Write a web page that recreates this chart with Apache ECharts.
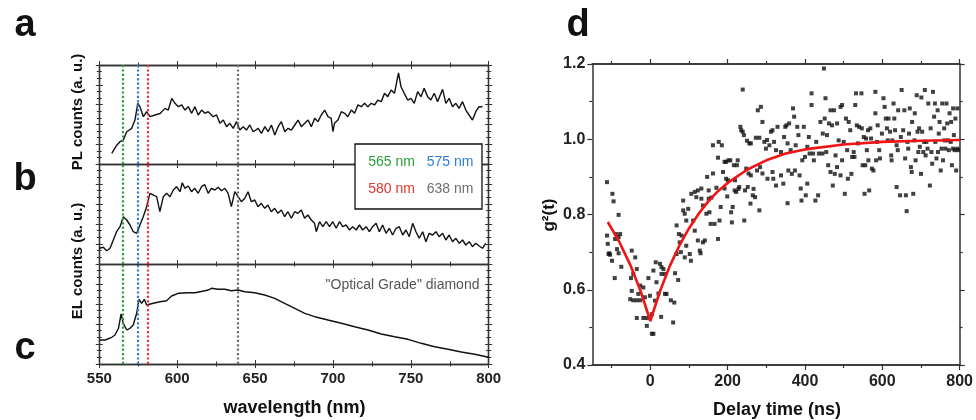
<!DOCTYPE html>
<html><head><meta charset="utf-8">
<script src="https://cdn.jsdelivr.net/npm/echarts@6/dist/echarts.min.js"></script>
<style>html,body{margin:0;padding:0;background:#fff}#c{width:976px;height:420px}</style>
</head><body><div id="c"></div><script>
// ---------- data ----------
const plSpectrumA = [[558,10.8],[561.2,19],[563.3,22.5],[565.4,24.2],[567.6,32.6],[570.8,36],[572.9,44.4],[574.7,61.3],[576.1,57.9],[578.3,47.8],[580.4,52.8],[582.5,47.8],[585.8,49.5],[589,51],[592.2,56.2],[594.3,54.5],[596.5,66.3],[598.6,61.3],[600.7,57.9],[602.9,59.6],[605,54.5],[607.1,57.9],[609.3,51.2],[611.4,57.9],[613.5,49.5],[615.7,54.5],[617.8,51.2],[619.9,52.8],[623.1,47.8],[625.3,49.5],[627.4,41.1],[629.6,44.4],[631.7,37.7],[633.8,41.1],[636,36],[638.1,42.8],[640.2,34.3],[642.4,37.7],[644.5,34.3],[646.6,39.4],[648.8,32.6],[652,36],[654.1,30.9],[656.3,37.7],[658.4,32.6],[660.5,39.4],[662.7,29.3],[664.8,37.7],[666.9,42.8],[669.1,32.6],[671.2,36],[673.3,34.3],[675.5,39.4],[677.6,44.4],[679.7,37.7],[681.9,41.1],[684,44.4],[686.1,37.7],[688.3,46.1],[690.4,42.8],[692.5,49.5],[694.7,54.5],[696.8,47.8],[698.9,46.1],[700,32.6],[701,41.1],[703.2,44.4],[705.4,52.8],[707.5,51.2],[709.6,47.8],[711.8,54.5],[713.9,51.2],[716,59.6],[718.2,57.9],[720.3,61.3],[722.4,57.9],[724.6,61.3],[726.7,59.6],[728.8,64.6],[731,63],[733.1,71.4],[735.2,68],[737.4,74.7],[739.5,71.4],[742.1,92],[743.7,78],[745.8,71.4],[748,64.6],[750.1,66.3],[752.2,61.3],[754.4,73.1],[756.5,68],[758.6,76.4],[760.8,68],[762.9,64.6],[765,71.4],[767.2,63],[770.4,75.4],[772.5,61.3],[774.6,66.3],[776.8,57.9],[778.9,61.3],[781,56.2],[783.2,63],[785.3,54.5],[787.4,49.5],[789.6,44.4],[791.7,52.8],[793.8,57.9],[796,57.9]];

const spectrumB = [[550,15.7],[552.6,16.7],[554.7,13.3],[556.9,15.7],[559,24],[561.1,32.3],[563.3,37.3],[565.4,47.3],[567.6,44],[569.7,39],[571.8,32.3],[574,30.7],[576.1,39],[578.2,47.3],[580.4,57.3],[582.5,70.7],[584.7,69],[586.8,67.3],[588.9,52.3],[590,50.7],[591.1,67.3],[593.2,70.7],[595.4,67.3],[597.5,74],[599.6,77.3],[601.8,72.3],[603.3,81.3],[604.9,75.7],[607.1,78],[609.2,72.3],[611.3,75.7],[613.5,70.7],[615.6,77.3],[617.7,79.3],[619.9,70.7],[622,75.7],[624.2,74],[626.3,76.7],[628.4,73.3],[630.6,75.7],[632.7,70.7],[634.8,57.3],[637,72.3],[639.1,67.3],[641.2,62.3],[643.4,65.7],[645.5,72.3],[647.6,62.3],[649.8,64],[651.9,57.3],[654,60.7],[656.2,55.7],[658.3,59],[660.4,52.3],[662.6,55.7],[664.7,50.7],[666.9,54],[669,47.3],[671.1,52.3],[673.3,45.7],[675.4,52.3],[677.5,50.7],[679.7,54],[681.8,45.7],[683.9,49],[686.1,44],[688.2,40.7],[689.3,32.3],[691.4,42.3],[693.5,37.3],[695.7,42.3],[697.8,37.3],[699.9,42.3],[702.1,35.7],[704.2,42.3],[706.3,37.3],[708.5,39],[710.6,34],[712.7,37.3],[714.9,34],[717,39],[719.1,34],[721.3,37.3],[723.4,32.3],[725.5,37.3],[727.7,40.7],[729.8,32.3],[731.9,39],[734.1,30.7],[736.2,35.7],[738.3,29],[740.5,35.7],[742.6,37.3],[744.8,29],[746.9,34],[749,27.3],[751.2,40.7],[753.3,32.3],[755.4,25.7],[757.6,32.3],[759.7,22.3],[761.8,30.7],[764,29],[766.1,32.3],[768.2,27.3],[770.4,30.7],[772.5,24],[774.6,29],[776.8,22.3],[778.9,25.7],[781.1,20.7],[783.2,24],[785.3,19],[787.5,22.3],[789.6,17.3],[791.7,20.7],[793.9,18],[796,15.7],[798.1,20.7]];

const elSpectrumC = [[550,24],[553.7,24],[558,26.7],[560.1,29],[562.3,35.7],[564,50],[565.4,40.7],[567.6,34],[569.7,35.7],[571.8,39],[574,50.7],[575.5,64.7],[577.2,60.7],[578.9,64.7],[580.4,59],[581.5,57.3],[584.7,60.7],[589,62.3],[593.2,63.3],[596.4,68],[600.7,70.7],[607.1,71.3],[611.4,71.3],[617.8,73.3],[620,74],[622,75.7],[626.3,74.7],[630.6,74.7],[634.8,73.3],[639.1,74],[643.4,72.3],[649.8,71.3],[656.2,69],[662.6,65.7],[669,60.7],[675.5,55.7],[681.9,50.7],[688.3,47.3],[696.8,44],[705.4,40.7],[713.9,37.3],[722.5,34],[731,30],[739.6,27.3],[748.2,24.7],[756.7,20.7],[765.3,17.3],[773.9,14.7],[782.4,12],[791,9.7],[798.5,7.3],[800,7]];

const markerWavelengths = [565, 575, 581, 639];
const markerColors = ['#2e9b3e', '#2f7dd2', '#e2352c', '#6e6e6e'];
const legendLabels = ['565 nm', '575 nm', '580 nm', '638 nm'];
const wavelengthTicks = {min: 550, max: 800, interval: 50};

const g2Points = [
[-112,.886],[-98,.855],[-95,.835],[-82,.799],[-112,.744],[-110,.722],[-106,.697],[-104,.693],[-99,.677],[-92,.631],[-91,.735],[-86,.708],[-82,.697],[-78,.748],[-82,.740],[-75,.661],[-108,.695],[-89,.748],
[-48,.704],[-39,.686],[-50,.631],[-35,.655],[-44,.642],[-48,.597],[-26,.611],[-31,.589],[-52,.575],[-44,.572],[-35,.572],[-26,.572],[-18,.606],[-14,.580],[-35,.525],[-18,.525],[-9,.525],[-9,.504],[-5,.631],[-1,.584],[4,.483],[8,.483],[4,.535],[8,.651],[12,.571],[16,.620],[14,.673],[21,.590],[25,.669],[29,.660],[34,.655],[38,.589],[28,.528],[29,.642],[38,.642],[42,.589],[53,.572],[59,.513],[62,.566],[64,.644],[72,.626],[68,.695],[68,.771],[74,.748],[76,.726],[81,.744],[79,.700],
[85,.811],[85,.837],[89,.802],[93,.784],[93,.717],[89,.686],[98,.815],[102,.695],[105,.677],[106,.855],[111,.784],[115,.860],[115,.757],[119,.846],[123,.864],[123,.731],[128,.704],[130,.697],[132,.869],[132,.842],[136,.824],[136,.726],[141,.731],[145,.802],[147,.900],[151,.864],[151,.842],[153,.806],[156,.775],[158,.845],[162,.984],[162,.909],[166,.775],[171,.871],[175,.951],[175,.735],[177,.993],[179,.784],[182,.820],[185,.984],[188,.913],[192,.869],[192,.940],[196,.940],[196,.895],[199,.848],[201,.891],[202,.944],[207,.944],[209,.806],[211,.779],[213,.820],[216,.931],[218,.864],[219,.891],[222,.860],[224,.931],[226,.944],[228,.868],[230,.873],[233,1.033],[235,1.024],[239,1.132],[239,1.020],[242,1.011],[243,.784],[245,.864],[248,.922],[250,.996],[252,.873],[254,.909],[256,.989],[260,.989],[259,.829],[260,.904],[265,.851],[267,.868],[271,.846],[273,1.004],[276,.917],[278,1.077],[282,.811],[282,1.004],[284,.926],[286,1.086],[290,1.046],[290,.909],[295,.993],[299,.975],[302,.998],[303,.895],[308,.984],[312,1.020],[316,.913],
[316,1.024],[320,.993],[325,.971],[329,1.033],[318,.895],[325,.877],[338,.966],[338,.904],[344,.882],[346,1.006],[349,1.033],[352,1.037],[355,.989],[355,.830],[357,.917],[359,1.042],[363,.971],[366,.908],[369,1.082],[372,1.060],[374,.917],[376,.984],[380,1.033],[383,1.011],[386,.904],[389,.869],[391,.837],[393,.944],[397,1.033],[400,.953],[402,.851],[406,.882],[406,.980],[410,1.006],[412,.962],[417,1.122],[417,1.091],[421,.962],[423,.944],[427,.837],[429,.993],[434,.851],[436,.962],[440,1.046],[445,.962],[446,1.015],[449,1.188],[451,1.055],[453,1.109],[455,.966],[457,1.011],[460,.931],[462,1.042],[466,1.077],[466,.913],[470,1.037],[472,.877],[475,1.077],[477,.908],[479,.957],[483,1.042],[483,.926],[487,.997],[492,1.086],[492,.904],[496,1.091],[496,.944],[500,.993],[503,.855],[506,1.055],[509,.971],[511,.895],[513,1.046],[517,1.024],[520,.908],[522,.953],[526,.966],[528,.953],[530,1.091],[532,1.122],[534,1.037],[537,.989],[540,1.033],[546,1.122],[547,1.029],[549,.931],[552,1.006],[554,.855],[556,.931],[558,1.002],[560,.971],[563,1.024],[564,.944],[566,.864],[569,1.029],[571,1.002],[573,.922],[577,.917],[582,1.126],[582,1.069],[584,.944],[586,.993],[588,1.037],[592,.971],[594,.949],[599,1.015],[603,1.109],[606,1.086],[609,1.055],[612,1.029],[614,.997],[616,1.055],[620,1.020],[623,.957],[624,.944],[626,.997],[629,1.095],[631,1.055],[633,1.024],[637,.873],[637,.984],[640,.971],[641,1.077],[646,.851],[648,1.006],[650,1.131],[654,1.024],[657,1.077],[659,.949],[661,.851],[663,.809],[665,.993],[667,.975],[669,1.015],[671,1.082],[674,.926],[676,.913],[677,1.046],[680,.855],[683,.997],[684,1.069],[686,.944],[689,1.117],[691,1.020],[693,.966],[695,1.029],[697,.980],[700,.908],[701,1.111],[703,1.020],[706,.966],[708,.993],[710,1.131],[712,.957],[714,.993],[717,.975],[719,1.095],[723,.877],[725,1.029],[727,.966],[729,.935],[731,1.126],[734,1.060],[736,1.095],[737,.993],[740,.949],[743,1.077],[744,.966],[746,1.015],[748,1.046],[751,.917],[753,.975],[755,1.095],[757,.944],[760,1.029],[761,.997],[763,.975],[766,1.095],[768,1.042],[770,.997],[772,.971],[774,1.069],[777,.993],[778,1.046],[780,.931],[783,1.082],[783,.975],[785,1.011],[787,.971],[789,1.055],[791,.917],[794,1.082],[794,.975],[796,.971]
];

const fitTime = [-110,-80,-50,-25,0,25,50,75,100,125,150,175,200,250,300,350,400,500,600,700,800];
const fitG2   = [.780,.727,.662,.596,.517,.596,.662,.717,.763,.802,.835,.862,.884,.919,.944,.962,.973,.986,.993,.996,.998];

const delayMajorTicks = [0, 200, 400, 600, 800];
const delayMinorTicks = [-100, 100, 300, 500, 700];
const g2Ticks = {min: 0.4, max: 1.2, interval: 0.2};

// ---------- chart ----------
const FONT = '"Liberation Sans", Arial, Helvetica, sans-serif';
const AX = '#333';
const grids = [
  {left: 99.3, top: 65, width: 389.4, height: 99},
  {left: 99.3, top: 164, width: 389.4, height: 100},
  {left: 99.3, top: 264, width: 389.4, height: 100},
  {left: 592.3, top: 64, width: 369.4, height: 301}
];

function wlX(gridIndex, position, inside, showLabel) {
  return {type: 'value', gridIndex, position, min: wavelengthTicks.min, max: wavelengthTicks.max, interval: wavelengthTicks.interval,
    axisLine: {show: true, onZero: false, lineStyle: {color: AX, width: 1.3}},
    axisTick: {show: true, inside, length: 4, lineStyle: {color: AX, width: 1}},
    minorTick: {show: true, splitNumber: 2, length: 2.5, lineStyle: {color: AX, width: 1}},
    axisLabel: {show: showLabel, margin: 7, fontFamily: FONT, fontWeight: 'bold', fontSize: 15, color: '#222'},
    splitLine: {show: false}, minorSplitLine: {show: false}};
}
function countY(gridIndex, position, inside) {
  return {type: 'value', gridIndex, position, min: 0, max: 100, interval: 20,
    axisLine: {show: true, onZero: false, lineStyle: {color: AX, width: 1.3}},
    axisTick: {show: true, inside, length: 3.5, lineStyle: {color: AX, width: 1}},
    minorTick: {show: true, splitNumber: 3, length: 2.5, lineStyle: {color: AX, width: 1}},
    axisLabel: {show: false}, splitLine: {show: false}, minorSplitLine: {show: false}};
}
function delayX(position, ticks, len, showLabel) {
  return {type: 'value', gridIndex: 3, position, min: -150, max: 800,
    axisLine: {show: true, onZero: false, lineStyle: {color: AX, width: 1.5}},
    axisTick: {show: true, inside: false, length: len, customValues: ticks, lineStyle: {color: AX, width: 1.2}},
    axisLabel: {show: showLabel, customValues: ticks, margin: 9, fontFamily: FONT, fontWeight: 'bold', fontSize: 16, color: '#222'},
    splitLine: {show: false}};
}
function g2Y(position, showLabel) {
  return {type: 'value', gridIndex: 3, position, min: g2Ticks.min, max: g2Ticks.max, interval: g2Ticks.interval,
    axisLine: {show: true, onZero: false, lineStyle: {color: AX, width: 1.5}},
    axisTick: {show: true, inside: false, length: 5, lineStyle: {color: AX, width: 1.2}},
    minorTick: {show: true, splitNumber: 2, length: 3, lineStyle: {color: AX, width: 1.2}},
    axisLabel: {show: showLabel, margin: 7, formatter: v => v.toFixed(1), fontFamily: FONT, fontWeight: 'bold', fontSize: 16, color: '#222'},
    splitLine: {show: false}, minorSplitLine: {show: false}};
}

const xAxis = [
  wlX(0, 'bottom', true, false),  // 0 a
  wlX(0, 'top', true, false),     // 1
  wlX(0, 'top', false, false),    // 2
  wlX(1, 'bottom', true, false),  // 3 b
  wlX(1, 'top', true, false),     // 4
  wlX(2, 'bottom', true, true),   // 5 c
  wlX(2, 'top', true, false),     // 6
  wlX(2, 'bottom', false, false), // 7
  delayX('bottom', delayMajorTicks, 5, true),  // 8 d
  delayX('bottom', delayMinorTicks, 3, false), // 9
  delayX('top', delayMajorTicks, 5, false),    // 10
  delayX('top', delayMinorTicks, 3, false)     // 11
];
const yAxis = [];
for (let g = 0; g < 3; g++) {
  yAxis.push(countY(g, 'left', true), countY(g, 'left', false), countY(g, 'right', true), countY(g, 'right', false));
}
yAxis.push(g2Y('left', true), g2Y('right', false)); // 12, 13

const markLine = {
  silent: true, symbol: ['none', 'none'], animation: false,
  label: {show: false},
  lineStyle: {type: 'dotted', width: 2.2},
  data: markerWavelengths.map((w, i) => ({xAxis: w, lineStyle: {color: markerColors[i], type: 'dotted', width: 2.2}}))
};
function spectrum(data, xi, yi) {
  return {type: 'line', data, xAxisIndex: xi, yAxisIndex: yi, showSymbol: false, symbol: 'none',
    lineStyle: {color: '#111', width: 1.4}, markLine, animation: false, z: 3};
}

const txt = (text, x, y, font, extra) => Object.assign({type: 'text', x, y, z: 100,
  style: Object.assign({text, font, fill: '#111', align: 'center', verticalAlign: 'middle', textAlign: 'center', textVerticalAlign: 'middle'}, {})}, extra || {});

const graphic = [
  txt('a', 25, 26, 'bold 38px ' + FONT),
  txt('b', 25, 180, 'bold 38px ' + FONT),
  txt('c', 25, 349, 'bold 38px ' + FONT),
  txt('d', 578, 26, 'bold 38px ' + FONT),
  txt('PL counts (a. u.)', 78, 112, 'bold 15px ' + FONT, {rotation: Math.PI / 2}),
  txt('EL counts (a. u.)', 78, 261, 'bold 15px ' + FONT, {rotation: Math.PI / 2}),
  txt('wavelength (nm)', 294.5, 408, 'bold 18px ' + FONT),
  txt('Delay time (ns)', 777, 410, 'bold 18px ' + FONT),
  txt('g\u00B2(t)', 549, 215, 'bold 17px ' + FONT, {rotation: Math.PI / 2}),
  {type: 'rect', z: 99, shape: {x: 355, y: 144, width: 127, height: 65}, style: {fill: '#fff', stroke: '#111', lineWidth: 1.3}},
  txt(legendLabels[0], 391.5, 162, '14px ' + FONT),
  txt(legendLabels[1], 450, 162, '14px ' + FONT),
  txt(legendLabels[2], 391.5, 189, '14px ' + FONT),
  txt(legendLabels[3], 450, 189, '14px ' + FONT),
  txt('"Optical Grade" diamond', 402.5, 285, '14px ' + FONT)
];
graphic[10].style.fill = markerColors[0];
graphic[11].style.fill = markerColors[1];
graphic[12].style.fill = markerColors[2];
graphic[13].style.fill = markerColors[3];
graphic[14].style.fill = '#555';
graphic[0].style.align = graphic[0].style.textAlign = 'center';

const chart = echarts.init(document.getElementById('c'), null, {renderer: 'canvas'});
chart.setOption({
  backgroundColor: '#fff',
  animation: false,
  grid: grids,
  xAxis, yAxis,
  graphic,
  series: [
    spectrum(plSpectrumA, 0, 0),
    spectrum(spectrumB, 3, 4),
    spectrum(elSpectrumC, 5, 8),
    {type: 'scatter', data: g2Points, xAxisIndex: 8, yAxisIndex: 12, symbol: 'rect', symbolSize: 4,
      itemStyle: {color: '#111'}, animation: false, z: 2},
    {type: 'line', data: fitTime.map((t, i) => [t, fitG2[i]]), xAxisIndex: 8, yAxisIndex: 12, showSymbol: false, symbol: 'none',
      lineStyle: {color: '#f01414', width: 2.6}, animation: false, z: 4}
  ]
});
</script></body></html>
